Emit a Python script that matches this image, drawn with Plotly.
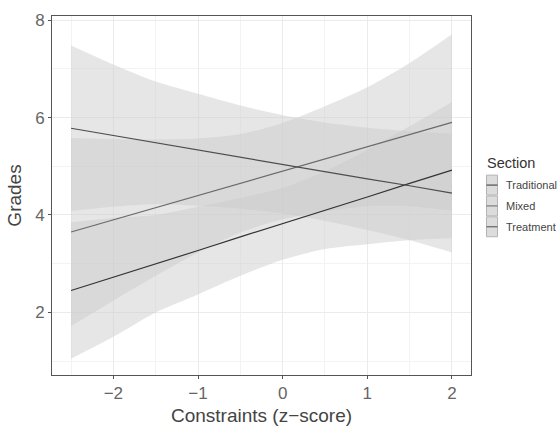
import plotly.graph_objects as go

x = [-2.5, -2.0, -1.5, -1.0, -0.5, 0.0, 0.5, 1.0, 1.5, 2.0]

sections = ["Traditional", "Mixed", "Treatment"]

trad_fit = [2.45, 2.72, 3.00, 3.27, 3.55, 3.82, 4.10, 4.37, 4.65, 4.92]
trad_lo = [1.05, 1.50, 2.00, 2.37, 2.75, 3.08, 3.30, 3.40, 3.48, 3.52]
trad_hi = [3.85, 3.94, 4.00, 4.17, 4.35, 4.56, 4.90, 5.34, 5.82, 6.32]

mixed_fit = [3.65, 3.90, 4.15, 4.40, 4.65, 4.90, 5.15, 5.40, 5.65, 5.90]
mixed_lo = [1.72, 2.24, 2.75, 3.23, 3.64, 3.91, 4.07, 4.18, 4.18, 4.09]
mixed_hi = [5.58, 5.56, 5.55, 5.57, 5.66, 5.89, 6.23, 6.62, 7.12, 7.71]

treat_fit = [5.78, 5.63, 5.48, 5.34, 5.19, 5.04, 4.89, 4.74, 4.60, 4.45]
treat_lo = [4.08, 4.17, 4.22, 4.19, 4.13, 4.03, 3.88, 3.69, 3.48, 3.23]
treat_hi = [7.48, 7.09, 6.74, 6.49, 6.25, 6.05, 5.90, 5.79, 5.72, 5.67]

fits = [trad_fit, mixed_fit, treat_fit]
los = [trad_lo, mixed_lo, treat_lo]
his = [trad_hi, mixed_hi, treat_hi]
line_colors = ["#333333", "#6a6a6a", "#4d4d4d"]
band_fill = "rgba(203,203,203,0.48)"

W, H = 558, 434
ML, MR, MT, MB = 52, 87, 11, 53
PW, PH = W - ML - MR, H - MT - MB


def px2paper_x(px):
    return (px - ML) / PW


def px2paper_y(py):
    return (H - MB - py) / PH


fig = go.Figure()

for name, lo, hi in zip(sections, los, his):
    fig.add_trace(go.Scatter(
        x=x, y=lo, mode="lines",
        line=dict(width=0, shape="spline", smoothing=0.8),
        hoverinfo="skip", showlegend=False,
    ))
    fig.add_trace(go.Scatter(
        x=x, y=hi, mode="lines", fill="tonexty", fillcolor=band_fill,
        line=dict(width=0, shape="spline", smoothing=0.8),
        hoverinfo="skip", showlegend=False,
    ))

for name, fit, col in zip(sections, fits, line_colors):
    fig.add_trace(go.Scatter(
        x=x, y=fit, mode="lines", name=name,
        line=dict(color=col, width=1.2),
        showlegend=False,
    ))

# manual ggplot-style legend
shapes = []
annotations = [dict(
    text="Section", xref="paper", yref="paper",
    x=px2paper_x(485), y=px2paper_y(162), xanchor="left", yanchor="middle",
    showarrow=False, font=dict(size=14.5, color="#333333"),
)]
key_top = 175
key_h = 21.5
for i, (name, col) in enumerate(zip(sections, line_colors)):
    y0 = key_top + i * key_h
    y1 = y0 + key_h - 1
    ym = (y0 + y1) / 2
    shapes.append(dict(
        type="rect", xref="paper", yref="paper",
        x0=px2paper_x(486.5), x1=px2paper_x(497.5),
        y0=px2paper_y(y1), y1=px2paper_y(y0),
        fillcolor="#dcdcdc", line=dict(color="#b4b4b4", width=1),
    ))
    shapes.append(dict(
        type="line", xref="paper", yref="paper",
        x0=px2paper_x(486.5), x1=px2paper_x(497.5),
        y0=px2paper_y(ym), y1=px2paper_y(ym),
        line=dict(color=col, width=1),
    ))
    annotations.append(dict(
        text=name, xref="paper", yref="paper",
        x=px2paper_x(504), y=px2paper_y(ym), xanchor="left", yanchor="middle",
        showarrow=False, font=dict(size=11, color="#444444"),
    ))

axis_common = dict(
    showline=True, linecolor="#555555", linewidth=1, mirror=True,
    gridcolor="#ebebeb", gridwidth=1, zeroline=False,
    ticks="outside", ticklen=3, tickcolor="#555555",
    tickfont=dict(size=17, color="#666666"),
)

fig.update_layout(
    width=W, height=H,
    margin=dict(l=ML, r=MR, t=MT, b=MB),
    paper_bgcolor="white", plot_bgcolor="white",
    font=dict(family="Liberation Sans, Arial, sans-serif", color="#444444"),
    showlegend=False,
    xaxis=dict(
        range=[-2.725, 2.225], tick0=0, dtick=1,
        title=dict(text="Constraints (z\u2212score)", font=dict(size=19, color="#444444"), standoff=6),
        minor=dict(dtick=0.5, tick0=0, showgrid=True, gridcolor="#f3f3f3", ticks=""),
        **axis_common,
    ),
    yaxis=dict(
        range=[0.715, 8.085], tick0=0, dtick=2,
        title=dict(text="Grades", font=dict(size=19, color="#444444"), standoff=8),
        minor=dict(dtick=1, tick0=0, showgrid=True, gridcolor="#f3f3f3", ticks=""),
        **axis_common,
    ),
    shapes=shapes,
    annotations=annotations,
)

fig.write_html("out.html")
